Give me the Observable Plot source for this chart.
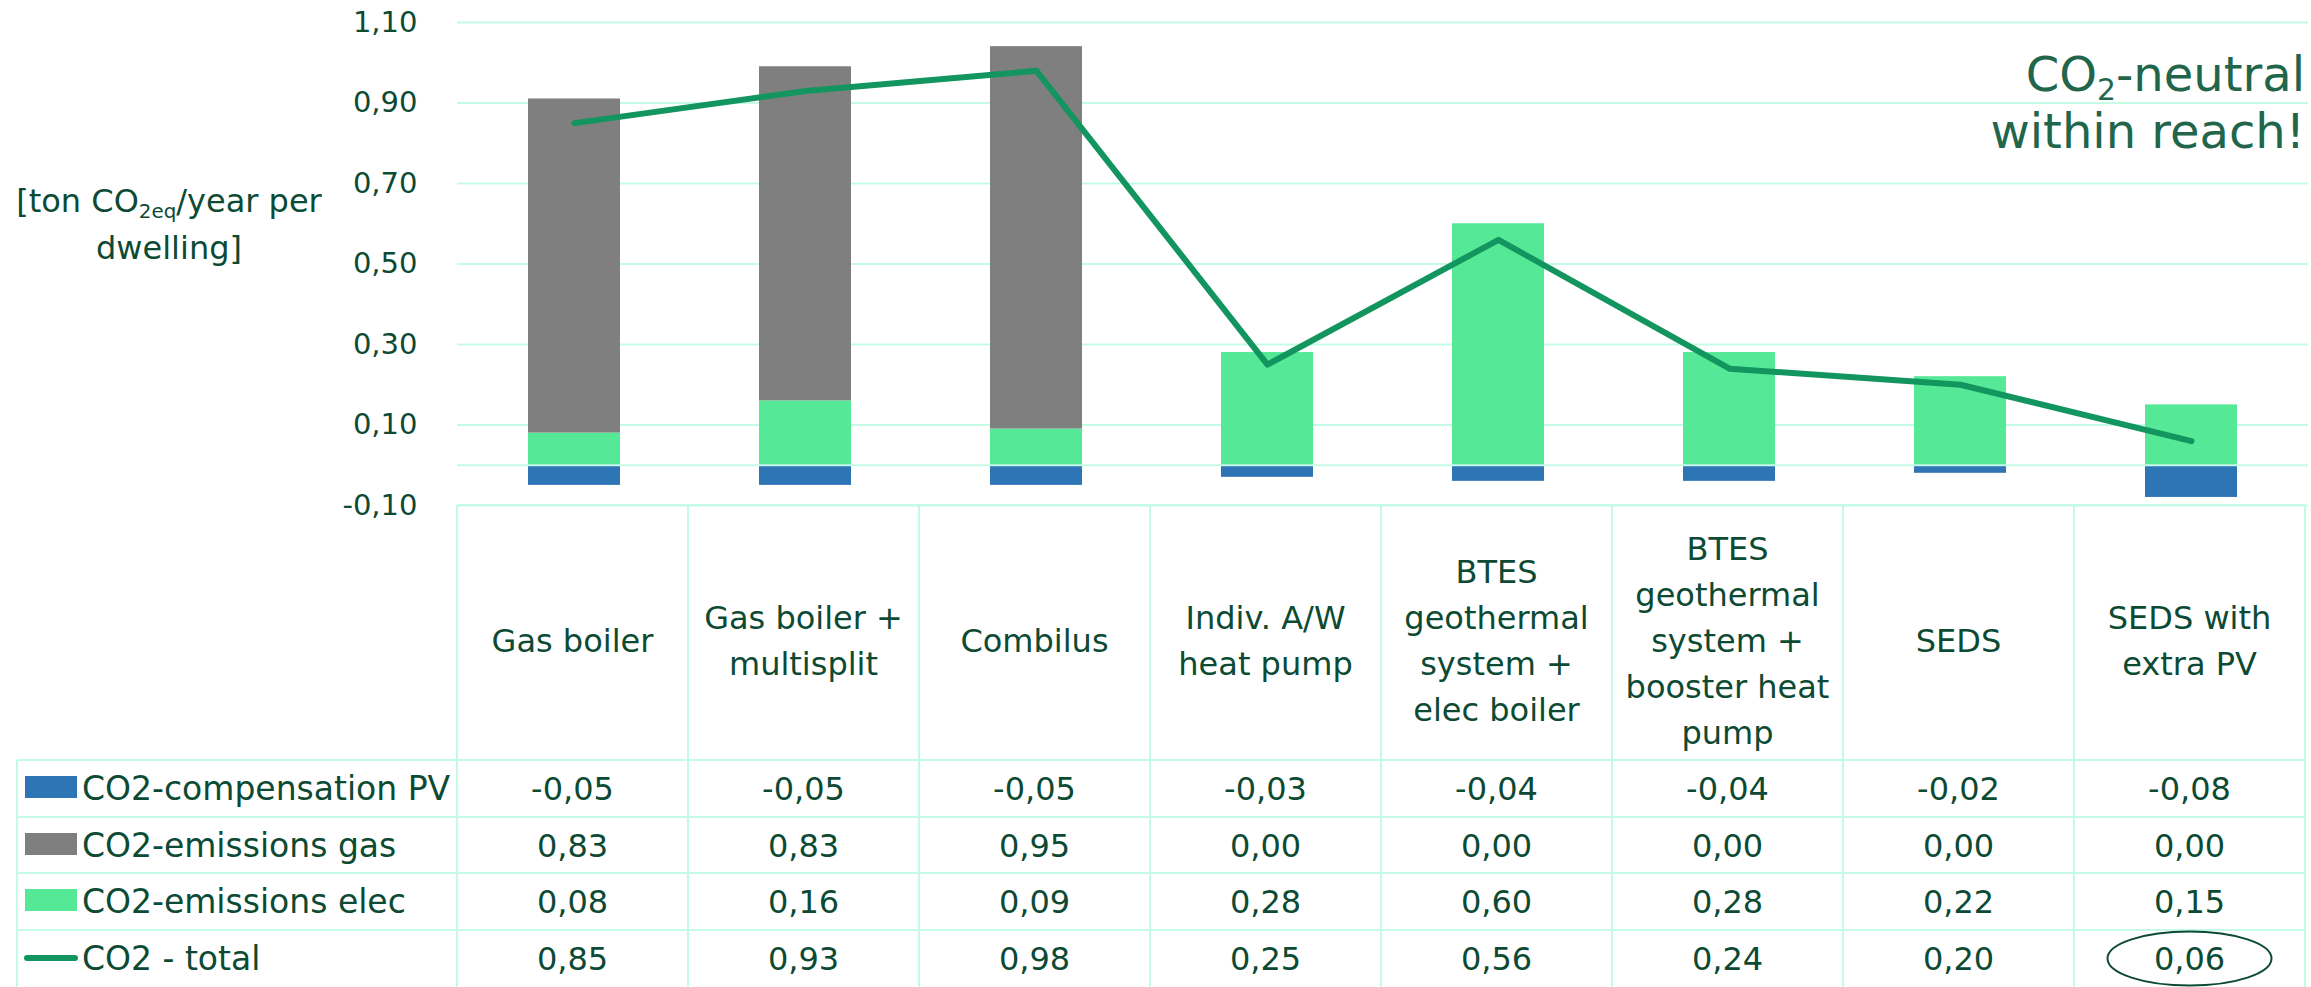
<!DOCTYPE html>
<html><head><meta charset="utf-8">
<script src="https://cdn.jsdelivr.net/npm/d3@7"></script>
<script src="https://cdn.jsdelivr.net/npm/@observablehq/plot@0.6"></script>
<style>
html,body{margin:0;padding:0;background:#fff;}
#wrap{position:relative;width:2311px;height:987px;overflow:hidden;font-family:"DejaVu Sans",sans-serif;color:#0c4a34;}
#wrap svg.plotmain{position:absolute;left:0;top:0;}
.abs{position:absolute;box-sizing:border-box;}
.cell{position:absolute;box-sizing:border-box;display:flex;align-items:center;justify-content:center;text-align:center;white-space:nowrap;}
.ln{position:absolute;background:#c5fbe6;}
sub{font-size:0.62em;vertical-align:-0.3em;line-height:0;}
</style></head><body><div id="wrap"></div>
<script>
// ---- data ----
const categories = ["Gas boiler","Gas boiler + multisplit","Combilus","Indiv. A/W heat pump","BTES geothermal system + elec boiler","BTES geothermal system + booster heat pump","SEDS","SEDS with extra PV"];
const headerLines = [["Gas boiler"],["Gas boiler +","multisplit"],["Combilus"],["Indiv. A/W","heat pump"],["BTES","geothermal","system +","elec boiler"],["BTES","geothermal","system +","booster heat","pump"],["SEDS"],["SEDS with","extra PV"]];
const pvComp = [-0.05,-0.05,-0.05,-0.03,-0.04,-0.04,-0.02,-0.08];
const gasEm  = [0.83,0.83,0.95,0.00,0.00,0.00,0.00,0.00];
const elecEm = [0.08,0.16,0.09,0.28,0.60,0.28,0.22,0.15];
const total  = [0.85,0.93,0.98,0.25,0.56,0.24,0.20,0.06];
const seriesNames = ["CO2-compensation PV","CO2-emissions gas","CO2-emissions elec","CO2 - total"];
const yTicks = [-0.1,0.1,0.3,0.5,0.7,0.9,1.1];

const C_TEXT = "#0c4a34", C_GRID = "#c5fbe6";
const C_PV = "#2e75b6", C_GAS = "#7f7f7f", C_ELEC = "#55e896", C_TOT = "#13955f";

const fmt = v => (v < 0 ? "-" : "") + Math.abs(v).toFixed(2).replace(".", ",");

const rows = [];
categories.forEach((c,i)=>{
  rows.push({cat:c, series:"elec", value:elecEm[i]});
  rows.push({cat:c, series:"gas", value:gasEm[i]});
  rows.push({cat:c, series:"pv", value:pvComp[i]});
});
const totals = categories.map((c,i)=>({cat:c, total:total[i]}));

const plot = Plot.plot({
  width: 2311, height: 987,
  marginTop: 22, marginLeft: 457, marginRight: 3, marginBottom: 482,
  style: {fontFamily: "DejaVu Sans", fontSize: "29px", color: C_TEXT, background: "transparent", overflow: "visible"},
  x: {domain: categories, paddingInner: 0.6, paddingOuter: 0.3, axis: null},
  y: {domain: [-0.1, 1.1], axis: null},
  color: {domain: ["elec","gas","pv"], range: [C_ELEC, C_GAS, C_PV]},
  marks: [
    Plot.gridY(yTicks, {stroke: C_GRID, strokeOpacity: 1, strokeWidth: 2}),
    Plot.axisY(yTicks, {tickSize: 0, tickPadding: 40, tickFormat: fmt, fontSize: 29, fill: C_TEXT}),
    Plot.barY(rows, {x: "cat", y: "value", fill: "series", order: ["elec","gas","pv"]}),
    Plot.ruleY([0], {stroke: C_GRID, strokeWidth: 2}),
    Plot.line(totals, {x: "cat", y: "total", stroke: C_TOT, strokeWidth: 6, strokeLinecap: "round", strokeLinejoin: "round"})
  ]
});
plot.classList.add("plotmain");
const wrap = document.getElementById("wrap");
wrap.appendChild(plot);

// ---- table aligned to the x scale ----
const xs = plot.scale("x");
const step = xs.step;
const x0 = xs.range[0];
const xEnd = x0 + step * categories.length;
const tableTop = 505, headBottom = 760, rowH = 57;
const rowTops = [760, 817, 873, 930];

function hline(xa, xb, y){ const d=document.createElement("div"); d.className="ln"; Object.assign(d.style,{left:xa+"px",top:(y-1)+"px",width:(xb-xa)+"px",height:"2px"}); wrap.appendChild(d); }
function vline(x, ya, yb){ const d=document.createElement("div"); d.className="ln"; Object.assign(d.style,{left:(x-1)+"px",top:ya+"px",width:"2px",height:(yb-ya)+"px"}); wrap.appendChild(d); }

for (let k=0;k<=categories.length;k++) vline(x0 + k*step, tableTop, 987);
vline(17, headBottom, 987);
hline(x0, xEnd, tableTop);
rowTops.forEach(y => hline(17, xEnd, y));

// headers
headerLines.forEach((lines,i)=>{
  const d=document.createElement("div"); d.className="cell";
  Object.assign(d.style,{left:(x0+i*step)+"px",top:tableTop+"px",width:step+"px",height:(headBottom-tableTop)+"px",paddingTop:"16px",fontSize:"32px",lineHeight:"46px"});
  d.innerHTML = lines.join("<br>");
  wrap.appendChild(d);
});

// legend column + values
const seriesVals = [pvComp, gasEm, elecEm, total];
const swatchCol = [C_PV, C_GAS, C_ELEC, C_TOT];
seriesNames.forEach((name,r)=>{
  const top = rowTops[r];
  const sw=document.createElement("div"); sw.className="abs";
  if (r<3) Object.assign(sw.style,{left:"25px",top:(top+16)+"px",width:"52px",height:"22px",background:swatchCol[r]});
  else Object.assign(sw.style,{left:"24px",top:(top+25)+"px",width:"54px",height:"6px",borderRadius:"3px",background:swatchCol[r]});
  wrap.appendChild(sw);
  const lab=document.createElement("div"); lab.className="cell";
  Object.assign(lab.style,{left:"82px",top:top+"px",height:rowH+"px",justifyContent:"flex-start",fontSize:"33px"});
  lab.textContent = name; wrap.appendChild(lab);
  seriesVals[r].forEach((v,i)=>{
    const c=document.createElement("div"); c.className="cell";
    Object.assign(c.style,{left:(x0+i*step)+"px",top:top+"px",width:step+"px",height:rowH+"px",fontSize:"32px"});
    c.textContent = fmt(v); wrap.appendChild(c);
  });
});

// ellipse around the last total
const ns="http://www.w3.org/2000/svg";
const ov=document.createElementNS(ns,"svg");
ov.setAttribute("width",2311); ov.setAttribute("height",987);
ov.style.position="absolute"; ov.style.left="0"; ov.style.top="0"; ov.style.pointerEvents="none";
const el=document.createElementNS(ns,"ellipse");
el.setAttribute("cx", x0 + (categories.length-0.5)*step);
el.setAttribute("cy", rowTops[3] + rowH/2);
el.setAttribute("rx", 82); el.setAttribute("ry", 27);
el.setAttribute("fill","none"); el.setAttribute("stroke", C_TEXT); el.setAttribute("stroke-width", 2);
ov.appendChild(el); wrap.appendChild(ov);

// y axis label
const yl=document.createElement("div"); yl.className="abs";
Object.assign(yl.style,{left:"0px",top:"178px",width:"338px",textAlign:"center",fontSize:"32px",lineHeight:"47px"});
yl.innerHTML="[ton CO<sub>2eq</sub>/year per<br>dwelling]";
wrap.appendChild(yl);

// annotation
const an=document.createElement("div"); an.className="abs";
Object.assign(an.style,{right:"6px",top:"46px",textAlign:"right",fontSize:"48px",lineHeight:"57px",color:"#21654b"});
an.innerHTML="CO<sub>2</sub>-neutral<br>within reach!";
wrap.appendChild(an);
</script></body></html>
